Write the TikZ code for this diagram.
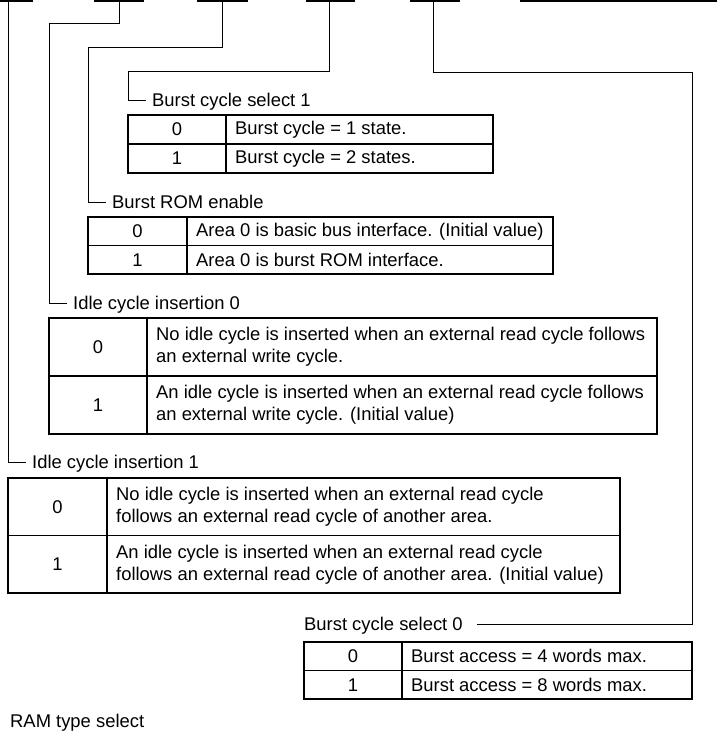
\documentclass[tikz,border=0pt]{standalone}
\usepackage{fontspec}
\setmainfont{Liberation Sans}
\usetikzlibrary{positioning}

\begin{document}
\begin{tikzpicture}[
  x=1pt, y=-1pt,
  font=\fontsize{18.4pt}{22pt}\selectfont,
  wire/.style={line width=1pt},
  champ/.style={line width=1.3pt},
  cellule/.style={draw, line width=1.2pt, inner sep=0pt, outer sep=0pt},
  texte/.style={inner sep=0pt, align=left, anchor=west},
  titre/.style={inner xsep=6pt, inner ysep=0pt, text height=15pt,
                text depth=3pt, anchor=west},
]
\useasboundingbox (0,0) rectangle (717,732);
% ---- bas du registre, coupé par le haut de la figure
\foreach \xa/\xb in {0/33, 94/144, 197/248, 306/355, 410/460, 520/717}
  \draw[champ] (\xa,1) -- (\xb,1);
\coordinate (b1) at (8,0);
\coordinate (b2) at (119,0);
\coordinate (b3) at (222,0);
\coordinate (b4) at (329,0);
\coordinate (b5) at (433,0);
% ---- Burst cycle select 1
\node[titre] (tbcs1) at (146,100) {Burst cycle select 1};
\node[cellule, minimum width=98pt, minimum height=29pt, anchor=north west] (bcs1v0) at (128,115) {0};
\node[cellule, minimum width=267pt, minimum height=29pt, right=0pt of bcs1v0] (bcs1d0) {};
\node[texte, right=9pt of bcs1d0.west] (bcs1t0) {Burst cycle = 1 state.};
\node[cellule, minimum width=98pt, minimum height=29pt, below=0pt of bcs1v0] (bcs1v1) {1};
\node[cellule, minimum width=267pt, minimum height=29pt, right=0pt of bcs1v1] (bcs1d1) {};
\node[texte, right=9pt of bcs1d1.west] (bcs1t1) {Burst cycle = 2 states.};
% ---- Burst ROM enable
\node[titre] (tbrom) at (106,202) {Burst ROM enable};
\node[cellule, minimum width=99pt, minimum height=28.5pt, anchor=north west] (bromv0) at (88,217) {0};
\node[cellule, minimum width=366pt, minimum height=28.5pt, right=0pt of bromv0] (bromd0) {};
\node[texte, right=9pt of bromd0.west] (bromt0) {Area 0 is basic bus interface. (Initial value)};
\node[cellule, minimum width=99pt, minimum height=28.5pt, below=0pt of bromv0] (bromv1) {1};
\node[cellule, minimum width=366pt, minimum height=28.5pt, right=0pt of bromv1] (bromd1) {};
\node[texte, right=9pt of bromd1.west] (bromt1) {Area 0 is burst ROM interface.};
% ---- Idle cycle insertion 0
\node[titre] (tidi0) at (67,303) {Idle cycle insertion 0};
\node[cellule, minimum width=98pt, minimum height=58pt, anchor=north west] (idi0v0) at (49,318) {0};
\node[cellule, minimum width=510pt, minimum height=58pt, right=0pt of idi0v0] (idi0d0) {};
\node[texte, right=9pt of idi0d0.west] (idi0t0)
  {No idle cycle is inserted when an external read cycle follows\\an external write cycle.};
\node[cellule, minimum width=98pt, minimum height=58pt, below=0pt of idi0v0] (idi0v1) {1};
\node[cellule, minimum width=510pt, minimum height=58pt, right=0pt of idi0v1] (idi0d1) {};
\node[texte, right=9pt of idi0d1.west] (idi0t1)
  {An idle cycle is inserted when an external read cycle follows\\an external write cycle. (Initial value)};
% ---- Idle cycle insertion 1
\node[titre] (tidi1) at (26,462) {Idle cycle insertion 1};
\node[cellule, minimum width=99pt, minimum height=57.5pt, anchor=north west] (idi1v0) at (8,478) {0};
\node[cellule, minimum width=513pt, minimum height=57.5pt, right=0pt of idi1v0] (idi1d0) {};
\node[texte, right=9pt of idi1d0.west] (idi1t0)
  {No idle cycle is inserted when an external read cycle\\follows an external read cycle of another area.};
\node[cellule, minimum width=99pt, minimum height=57.5pt, below=0pt of idi1v0] (idi1v1) {1};
\node[cellule, minimum width=513pt, minimum height=57.5pt, right=0pt of idi1v1] (idi1d1) {};
\node[texte, right=9pt of idi1d1.west] (idi1t1)
  {An idle cycle is inserted when an external read cycle\\follows an external read cycle of another area. (Initial value)};
% ---- Burst cycle select 0
\node[titre] (tbcs0) at (298,624) {Burst cycle select 0};
\node[cellule, minimum width=98pt, minimum height=28.5pt, anchor=north west] (bcs0v0) at (304,642) {0};
\node[cellule, minimum width=290pt, minimum height=28.5pt, right=0pt of bcs0v0] (bcs0d0) {};
\node[texte, right=9pt of bcs0d0.west] (bcs0t0) {Burst access = 4 words max.};
\node[cellule, minimum width=98pt, minimum height=28.5pt, below=0pt of bcs0v0] (bcs0v1) {1};
\node[cellule, minimum width=290pt, minimum height=28.5pt, right=0pt of bcs0v1] (bcs0d1) {};
\node[texte, right=9pt of bcs0d1.west] (bcs0t1) {Burst access = 8 words max.};
% ---- suite, en bas de la figure
\node[titre] (tram) at (4,721) {RAM type select};
% ---- renvois des bits vers les tableaux
\draw[wire] (b1) |- (tidi1.west);
\draw[wire] (b2) -- ++(0,23) -| (idi0v0.north west |- tidi0.west) -- (tidi0.west);
\draw[wire] (b3) -- ++(0,47) -| (bromv0.north west |- tbrom.west) -- (tbrom.west);
\draw[wire] (b4) -- ++(0,71) -| (bcs1v0.north west |- tbcs1.west) -- (tbcs1.west);
\draw[wire] (b5) -- ++(0,72) -| (bcs0d0.north east |- tbcs0.east) -- ([xshift=8pt]tbcs0.east);
\end{tikzpicture}
\end{document}
